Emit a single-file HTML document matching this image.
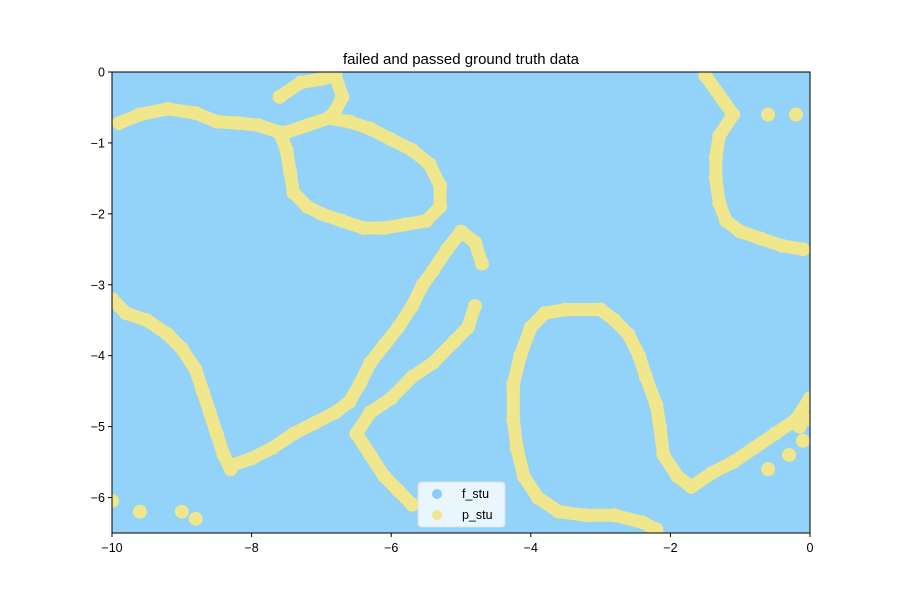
<!DOCTYPE html>
<html><head><meta charset="utf-8"><style>
body{margin:0;background:#fff;font-family:"Liberation Sans","DejaVu Sans",sans-serif}
</style></head><body>
<svg id="chart" width="900" height="600" xmlns="http://www.w3.org/2000/svg" font-family="Liberation Sans, DejaVu Sans, sans-serif">
<defs><clipPath id="clip"><rect x="112" y="72" width="698" height="461"/></clipPath></defs>
<rect width="900" height="600" fill="#fff"/>
<g id="plot" clip-path="url(#clip)"></g>
<g id="axes"></g>
</svg>
<script>
const xTicks=[-10,-8,-6,-4,-2,0];
const yTicks=[0,-1,-2,-3,-4,-5,-6];
const fStuRegion=[[-10,0],[0,-6.5]];
const curveA_x=[-9.9,-9.6,-9.2,-8.8,-8.5,-8.2,-7.9,-7.6,-7.5,-7.45,-7.4,-7.2,-7.0,-6.7,-6.4,-6.1,-5.8,-5.5,-5.3,-5.3,-5.45,-5.7,-6.0,-6.3,-6.6,-6.9,-7.2,-7.5];
const curveA_y=[-0.72,-0.6,-0.52,-0.58,-0.7,-0.72,-0.75,-0.85,-1.1,-1.4,-1.7,-1.9,-2.0,-2.1,-2.2,-2.2,-2.15,-2.1,-1.9,-1.6,-1.3,-1.1,-0.95,-0.8,-0.7,-0.65,-0.75,-0.85];
const curveG_x=[-7.6,-7.3,-7.0,-6.8,-6.7,-6.8,-6.9];
const curveG_y=[-0.35,-0.15,-0.1,-0.05,-0.35,-0.55,-0.65];
const curveB_x=[-4.7,-4.8,-5.0,-5.2,-5.4,-5.55,-5.7,-5.9,-6.1,-6.3,-6.45,-6.6,-6.8,-7.1,-7.4,-7.7,-8.0,-8.3];
const curveB_y=[-2.7,-2.4,-2.25,-2.5,-2.8,-3.0,-3.3,-3.6,-3.85,-4.1,-4.4,-4.65,-4.8,-4.95,-5.1,-5.3,-5.45,-5.55];
const curveC_x=[-4.8,-4.9,-5.1,-5.4,-5.7,-6.0,-6.3,-6.5,-6.3,-6.1,-5.9,-5.7];
const curveC_y=[-3.3,-3.6,-3.8,-4.1,-4.3,-4.6,-4.8,-5.1,-5.4,-5.7,-5.9,-6.1];
const curveD_x=[-10,-9.8,-9.5,-9.2,-9.0,-8.8,-8.7,-8.6,-8.5,-8.4,-8.3];
const curveD_y=[-3.2,-3.4,-3.5,-3.7,-3.9,-4.2,-4.5,-4.8,-5.1,-5.4,-5.6];
const curveE_x=[-2.2,-2.4,-2.8,-3.2,-3.6,-3.9,-4.1,-4.2,-4.25,-4.25,-4.15,-4.0,-3.8,-3.5,-3.0,-2.8,-2.6,-2.45,-2.35,-2.2,-2.15,-2.1,-1.9,-1.7,-1.4,-1.1,-0.8,-0.5,-0.2,0];
const curveE_y=[-6.45,-6.35,-6.25,-6.25,-6.2,-6.0,-5.7,-5.3,-4.9,-4.4,-4.0,-3.6,-3.4,-3.35,-3.35,-3.5,-3.7,-4.0,-4.3,-4.7,-5.0,-5.4,-5.7,-5.85,-5.65,-5.5,-5.3,-5.1,-4.9,-4.6];
const curveF_x=[-1.5,-1.1,-1.3,-1.35,-1.35,-1.3,-1.2,-1.0,-0.7,-0.4,-0.1];
const curveF_y=[-0.05,-0.6,-0.9,-1.2,-1.5,-1.85,-2.1,-2.25,-2.35,-2.45,-2.5];
const extra_x=[-10,-9.6,-9.0,-8.8,-0.6,-0.2,-0.1,-0.3,-0.6,-0.05,-0.15];
const extra_y=[-6.05,-6.2,-6.2,-6.3,-0.6,-0.6,-5.2,-5.4,-5.6,-4.9,-5.0];

const X0=112,X1=810,Y0=72,Y1=533;
const sx=v=>X0+(v+10)/10*(X1-X0);
const sy=v=>Y0+(0-v)/6.5*(Y1-Y0);
const NS='http://www.w3.org/2000/svg';
const mk=(t,a,p)=>{const e=document.createElementNS(NS,t);for(const k in a)e.setAttribute(k,a[k]);p.appendChild(e);return e;};
const plot=document.getElementById('plot'),axes=document.getElementById('axes');

const bg=mk('rect',{x:sx(fStuRegion[0][0]),y:sy(fStuRegion[0][1]),width:sx(fStuRegion[1][0])-sx(fStuRegion[0][0]),height:sy(fStuRegion[1][1])-sy(fStuRegion[0][1]),fill:'#93d2f9'},plot);



const curves=[[curveA_x,curveA_y],[curveG_x,curveG_y],[curveB_x,curveB_y],[curveC_x,curveC_y],[curveD_x,curveD_y],[curveE_x,curveE_y],[curveF_x,curveF_y]];
curves.forEach((c,i)=>{
  const pl=mk('polyline',{points:c[0].map((x,j)=>sx(x)+','+sy(c[1][j])).join(' '),fill:'none',stroke:'#f0e68c',"stroke-width":13,"stroke-linejoin":'round',"stroke-linecap":'round'},plot);
  
  
  c[0].forEach((x,j)=>{
    const p=mk('circle',{cx:sx(x),cy:sy(c[1][j]),r:7,fill:'#f0e68c'},plot);
    
    
  });
});
extra_x.forEach((x,j)=>{
  const p=mk('circle',{cx:sx(x),cy:sy(extra_y[j]),r:7,fill:'#f0e68c'},plot);
  
  
});

const frame=mk('rect',{x:X0,y:Y0,width:X1-X0,height:Y1-Y0,fill:'none',stroke:'#000',"stroke-width":1},axes);


xTicks.forEach(t=>{
  const x=sx(t);
  mk('line',{x1:x,x2:x,y1:Y1,y2:Y1+4,stroke:'#000'},axes);
  const tx=mk('text',{x:x,y:Y1+19,"text-anchor":'middle',"font-size":12.5,fill:'#000'},axes);
  tx.textContent=(t<0?'−'+(-t):t);
  
  
});
yTicks.forEach(t=>{
  const y=sy(t);
  mk('line',{x1:X0-4,x2:X0,y1:y,y2:y,stroke:'#000'},axes);
  const tx=mk('text',{x:X0-7,y:y+4.5,"text-anchor":'end',"font-size":12.5,fill:'#000'},axes);
  tx.textContent=(t<0?'−'+(-t):t);
  
  
});
const title=mk('text',{x:461,y:64,"text-anchor":'middle',"font-size":15,fill:'#000'},axes);
title.textContent='failed and passed ground truth data';



const lg=mk('g',{},axes);


mk('rect',{x:418,y:482,width:87,height:45,rx:3,fill:'#fff',"fill-opacity":0.8,stroke:'#ddd'},lg);
const e1=mk('circle',{cx:437,cy:494,r:5,fill:'#87cefa'},lg);


const t1=mk('text',{x:462,y:498,"font-size":12.5,fill:'#000'},lg);t1.textContent='f_stu';


const e2=mk('circle',{cx:437,cy:515,r:5,fill:'#f0e68c'},lg);


const t2=mk('text',{x:462,y:519,"font-size":12.5,fill:'#000'},lg);t2.textContent='p_stu';


</script>
</body></html>
